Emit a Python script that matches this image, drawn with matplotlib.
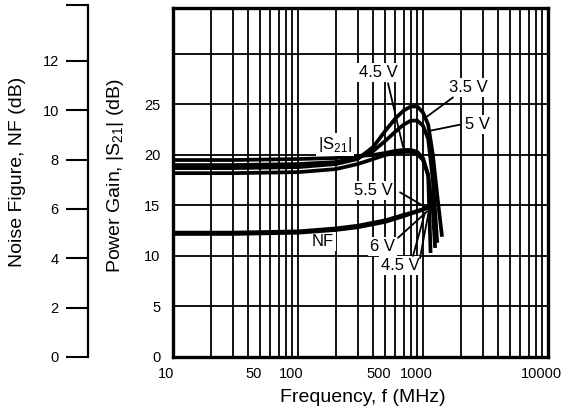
import matplotlib
matplotlib.use("Agg")
import matplotlib.pyplot as plt
from matplotlib.ticker import FixedLocator, NullFormatter
from matplotlib.transforms import ScaledTranslation

plt.rcParams['font.family'] = ['Liberation Sans', 'DejaVu Sans']

# gain curves |S21| (dB) vs frequency (MHz)
f_35 = [10, 30, 100, 200, 300, 400, 500, 600, 700, 800, 900, 1000, 1100, 1200, 1300, 1420]
g_35 = [18.7, 18.7, 18.8, 19.1, 19.6, 20.8, 22.4, 23.6, 24.4, 24.8, 24.8, 24.2, 23.0, 20.0, 16.0, 11.9]

f_50 = [10, 30, 100, 200, 300, 400, 500, 600, 700, 800, 900, 1000, 1100, 1200, 1300]
g_50 = [19.0, 19.0, 19.1, 19.3, 19.7, 20.4, 21.4, 22.3, 23.0, 23.4, 23.4, 22.9, 21.6, 17.5, 11.3]

f_45 = [10, 30, 100, 200, 300, 400, 500, 600, 700, 800, 900, 1000, 1100, 1150]
g_45 = [19.5, 19.5, 19.6, 19.7, 19.9, 20.0, 20.2, 20.4, 20.5, 20.5, 20.3, 19.7, 18.0, 10.3]

f_55 = [10, 30, 100, 200, 300, 400, 500, 600, 700, 800, 900, 1000, 1100, 1200, 1250]
g_55 = [18.2, 18.2, 18.3, 18.6, 19.1, 19.6, 20.0, 20.2, 20.3, 20.3, 20.1, 19.5, 18.0, 14.5, 10.8]

# noise figure (dB)
f_nf = [10, 30, 100, 200, 300, 500, 700, 800, 1000, 1150]
nf_6 = [5.05, 5.05, 5.1, 5.22, 5.33, 5.55, 5.77, 5.85, 6.0, 6.1]
nf_45 = [4.98, 4.98, 5.03, 5.14, 5.25, 5.47, 5.7, 5.8, 5.96, 6.08]

gain_ticks = [0, 5, 10, 15, 20, 25]
nf_ticks = [0, 2, 4, 6, 8, 10, 12]
x_ticks = [10, 50, 100, 500, 1000, 10000]
x_ticklabels = ['10', '50', '100', '500', '1000', '10000']

fig = plt.figure(figsize=(5.63, 4.12), dpi=100)
ax = fig.add_axes([173/563, 55/412, 375/563, 349/412])
ax.set_xscale('log')
ax.set_xlim(10, 10000)
ax.set_ylim(0, 34.55)

# grid
minor = [m * 10**d for d in range(1, 4) for m in range(2, 10)]
ax.xaxis.set_major_locator(FixedLocator(x_ticks))
ax.xaxis.set_minor_locator(FixedLocator(minor))
ax.xaxis.set_minor_formatter(NullFormatter())
ax.set_xticklabels(x_ticklabels)
ax.set_yticks(gain_ticks)
for v in [10, 100, 1000] + minor:
    ax.axvline(v, color='black', lw=1.3, zorder=1)
for v in [5, 10, 15, 20, 25, 30]:
    ax.axhline(v, color='black', lw=1.3, zorder=1)
ax.tick_params(which='both', length=0, labelsize=10.5)
ax.tick_params(axis='y', pad=9)
ax.tick_params(axis='x', pad=7)
shift = ScaledTranslation(-7/100, 0, fig.dpi_scale_trans)
for lab in ax.get_xticklabels():
    lab.set_transform(lab.get_transform() + shift)
for s in ax.spines.values():
    s.set_linewidth(2.4)

for f, g in [(f_35, g_35), (f_50, g_50), (f_45, g_45), (f_55, g_55)]:
    ax.plot(f, g, color='black', lw=2.7, zorder=3, solid_capstyle='butt')

# NF curves on their own scale
axp = ax.twinx()
axp.set_ylim(0, 349/24.67)
axp.axis('off')
for nf in [nf_6, nf_45]:
    axp.plot(f_nf, nf, color='black', lw=2.4, zorder=3)

# labels and leader lines (freq, gain)
texts = [
    ('4.5 V', 437, 28.2), ('3.5 V', 2290, 26.7), ('5 V', 2754, 23.0),
    ('|S$_{\\mathregular{21}}$|', 198, 21.0), ('5.5 V', 398, 16.5),
    ('NF', 158, 11.4), ('6 V', 470, 10.9), ('4.5 V', 655, 9.1),
]
for t, x, y in texts:
    ax.text(x, y, t, fontsize=12, ha='center', va='center', zorder=4,
            bbox=dict(fc='white', ec='none', pad=1.5))
leaders = [
    ((525, 27.1), (692, 20.8)), ((1738, 25.7), (1076, 23.8)),
    ((1977, 23.0), (1138, 22.4)), ((655, 16.3), (1076, 14.75)),
    ((631, 11.8), (1076, 14.4)), ((832, 10.0), (1038, 14.3)),
    ((946, 9.8), (1100, 14.1)),
]
for start, end in leaders:
    ax.annotate('', xy=end, xytext=start, zorder=5,
                arrowprops=dict(arrowstyle='-', lw=1.3, color='black', shrinkA=0, shrinkB=0))

# separate noise figure axis
axn = fig.add_axes([88/563, 55/412, 0.0001, 352/412])
axn.set_ylim(0, 352/24.67)
for k in ['top', 'right', 'bottom']:
    axn.spines[k].set_visible(False)
axn.spines['left'].set_linewidth(1.6)
axn.set_xticks([])
axn.set_yticks(nf_ticks + [352/24.67])
axn.set_yticklabels([str(v) for v in nf_ticks] + [''])
axn.tick_params(axis='y', direction='out', length=16, width=1.5, pad=5, labelsize=10.5)
axn.patch.set_visible(False)

fig.text(363/563, 14/412, 'Frequency, f (MHz)', fontsize=14, ha='center', va='center')
fig.text(115/563, (412-176)/412, 'Power Gain, |S$_{\\mathregular{21}}$| (dB)', fontsize=14,
         ha='center', va='center', rotation=90)
fig.text(18/563, (412-172)/412, 'Noise Figure, NF (dB)', fontsize=14,
         ha='center', va='center', rotation=90)

fig.savefig('out.png', dpi=100)
